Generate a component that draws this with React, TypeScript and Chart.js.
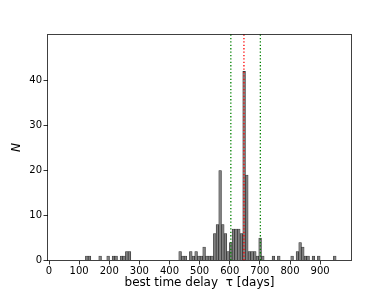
import { useEffect, useRef } from "react";
import { Chart, registerables } from "chart.js";

Chart.register(...registerables);

// Histogram bins (days): bin k spans BIN_START + k*BIN_WIDTH ... +BIN_WIDTH
const BIN_START = 121;
const BIN_WIDTH = 8.85;
const BIN_INDEX = [
  0, 1, 5, 8, 10, 11, 13, 14, 15, 16,
  35, 36, 37, 39, 40, 41, 42, 43, 44, 45, 46, 47, 48, 49, 50, 51, 52, 53, 54, 55,
  56, 57, 58, 59, 60, 61, 62, 63, 64, 65, 66,
  70, 72, 77, 79, 80, 81, 82, 83, 85, 87, 93,
];
const COUNTS = [
  1, 1, 1, 1, 1, 1, 1, 1, 2, 2,
  2, 1, 1, 2, 1, 2, 1, 1, 3, 1, 1, 1, 6, 8, 20, 8, 6, 2, 4, 7,
  7, 7, 6, 42, 19, 2, 2, 2, 1, 5, 1,
  1, 1, 1, 2, 4, 3, 1, 1, 1, 1, 1,
];

const GREEN_LINES = [603.5, 701.5];
const RED_LINES = [647];

const X_TICKS = [0, 100, 200, 300, 400, 500, 600, 700, 800, 900];
const Y_TICKS = [0, 10, 20, 30, 40];
const X_MIN = -5;
const X_MAX = 1004;
const Y_MIN = 0;
const Y_MAX = 50.2;

const X_LABEL = "best time delay  τ [days]";
const Y_LABEL = "N";

const FONT = "'DejaVu Sans', sans-serif";

export default function App() {
  const ref = useRef<HTMLCanvasElement | null>(null);

  useEffect(() => {
    const canvas = ref.current;
    if (!canvas) return;

    const points = BIN_INDEX.map((k, i) => ({
      x: BIN_START + (k + 0.5) * BIN_WIDTH,
      y: COUNTS[i],
    }));

    const vlinePlugin = {
      id: "vlines",
      afterDatasetsDraw(chart: any) {
        const { ctx, chartArea, scales } = chart;
        const draw = (vals: number[], color: string) => {
          vals.forEach((v) => {
            const px = scales.x.getPixelForValue(v);
            ctx.save();
            ctx.strokeStyle = color;
            ctx.lineWidth = 1.3;
            ctx.setLineDash([1.3, 2.1]);
            ctx.beginPath();
            ctx.moveTo(px, chartArea.top);
            ctx.lineTo(px, chartArea.bottom);
            ctx.stroke();
            ctx.restore();
          });
        };
        draw(GREEN_LINES, "#008000");
        draw(RED_LINES, "#ff0000");
        // frame
        ctx.save();
        ctx.strokeStyle = "rgba(0,0,0,0.75)";
        ctx.lineWidth = 1;
        ctx.strokeRect(
          chartArea.left,
          chartArea.top,
          chartArea.right - chartArea.left,
          chartArea.bottom - chartArea.top
        );
        ctx.restore();
      },
    };

    const chart = new Chart(canvas, {
      type: "bar",
      data: {
        datasets: [
          {
            data: points as any,
            backgroundColor: "#808080",
            borderColor: "#222222",
            borderWidth: 0.65,
            barPercentage: 1,
            categoryPercentage: 1,
            borderSkipped: "start",
          },
        ],
      },
      options: {
        animation: false,
        responsive: false,
        devicePixelRatio: 1,
        layout: { padding: { top: 34.5, right: 38.5, bottom: 0, left: 0 } },
        plugins: {
          legend: { display: false },
          tooltip: { enabled: false },
        },
        scales: {
          x: {
            type: "linear",
            min: X_MIN,
            max: X_MAX,
            offset: false,
            afterBuildTicks: (s: any) => {
              s.ticks = X_TICKS.map((v) => ({ value: v }));
            },
            afterFit: (s: any) => {
              s.height = 32.5;
            },
            grid: {
              offset: false,
              drawOnChartArea: false,
              drawTicks: true,
              tickLength: 4,
              tickColor: "#000",
              lineWidth: 0.8,
            },
            border: { display: false },
            ticks: {
              font: { family: FONT, size: 10 },
              color: "#000",
              padding: 1,
              maxRotation: 0,
              autoSkip: false,
            },
            title: {
              display: true,
              text: X_LABEL,
              font: { family: FONT, size: 12, lineHeight: 1.2 },
              color: "#000",
              padding: { top: 0, bottom: 2.5 },
            },
          },
          y: {
            type: "linear",
            min: Y_MIN,
            max: Y_MAX,
            afterBuildTicks: (s: any) => {
              s.ticks = Y_TICKS.map((v) => ({ value: v }));
            },
            afterFit: (s: any) => {
              s.width = 47.5;
            },
            grid: {
              drawOnChartArea: false,
              drawTicks: true,
              tickLength: 4,
              tickColor: "#000",
              lineWidth: 0.8,
            },
            border: { display: false },
            ticks: {
              font: { family: FONT, size: 10 },
              color: "#000",
              padding: 1.5,
            },
            title: {
              display: true,
              text: Y_LABEL,
              font: { family: FONT, size: 12, style: "italic", lineHeight: 1.2 },
              color: "#000",
              padding: { top: 9.8, bottom: 0 },
            },
          },
        },
      },
      plugins: [vlinePlugin],
    });

    return () => chart.destroy();
  }, []);

  return (
    <div style={{ position: "absolute", left: 0, top: 0, width: 390, height: 293, background: "#fff" }}>
      <canvas ref={ref} width={390} height={293} style={{ width: 390, height: 293, display: "block" }} />
    </div>
  );
}
